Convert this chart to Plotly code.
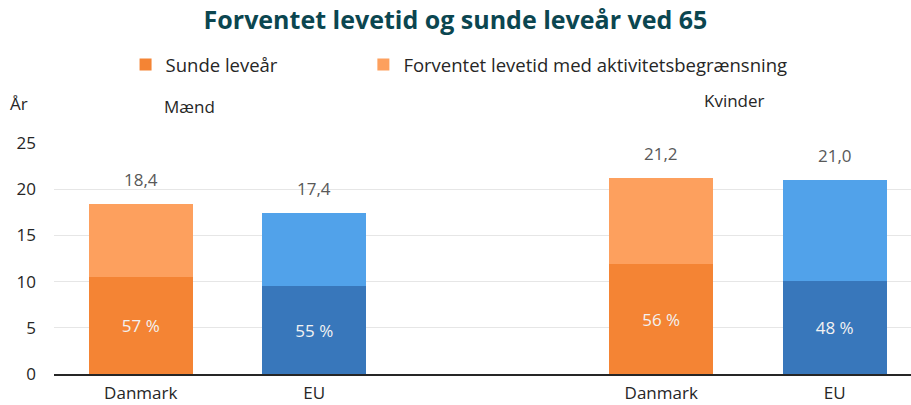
import plotly.graph_objects as go

# ---- data ----
groups = ["Mænd", "Kvinder"]
categories = ["Danmark", "EU", "Danmark", "EU"]
group_of_bar = ["Mænd", "Mænd", "Kvinder", "Kvinder"]
healthy_years = [10.5, 9.5, 11.9, 10.1]          # Sunde leveår
limited_years = [7.9, 7.9, 9.3, 10.9]            # Forventet levetid med aktivitetsbegrænsning
total_years = [18.4, 17.4, 21.2, 21.0]
healthy_pct = [57, 55, 56, 48]
y_ticks = [0, 5, 10, 15, 20, 25]

# ---- styling ----
FONT = "Open Sans"
dark_colors = {"Danmark": "#F48434", "EU": "#3877BB"}
light_colors = {"Danmark": "#FDA05E", "EU": "#51A2EA"}

# positions: groups separated by an empty slot
cat_idx = {"Danmark": 0, "EU": 1}
x_pos = [groups.index(g) * 3 + cat_idx[c] for g, c in zip(group_of_bar, categories)]

fig = go.Figure()
fig.add_trace(go.Bar(
    x=x_pos, y=healthy_years, name="Sunde leveår",
    marker=dict(color=[dark_colors[c] for c in categories], line=dict(width=0)),
    width=0.6,
    text=[f"{p} %" for p in healthy_pct],
    textposition="inside", insidetextanchor="middle", textangle=0,
    constraintext="none",
    textfont=dict(family=FONT, size=17, color="#F2F2F2"),
    hoverinfo="skip", legend="legend",
))
fig.add_trace(go.Bar(
    x=x_pos, y=limited_years, name="Forventet levetid med aktivitetsbegrænsning",
    marker=dict(color=[light_colors[c] for c in categories], line=dict(width=0)),
    width=0.6, hoverinfo="skip", legend="legend2",
))

annotations = []
for xp, t in zip(x_pos, total_years):
    annotations.append(dict(
        x=xp, y=t, xref="x", yref="y", text=f"{t:.1f}".replace(".", ","),
        showarrow=False, yanchor="bottom", yshift=11,
        font=dict(family=FONT, size=17, color="#595959"),
    ))
# group labels
group_label_x = {"Mænd": 0.28, "Kvinder": 3.42}
group_label_y = {"Mænd": 1.160, "Kvinder": 1.182}
for g in groups:
    annotations.append(dict(
        x=group_label_x[g], y=group_label_y[g], xref="x", yref="paper", text=g,
        showarrow=False, xanchor="center", yanchor="middle",
        font=dict(family=FONT, size=17, color="#262626"),
    ))
annotations.append(dict(
    x=-0.0408, y=1.173, xref="paper", yref="paper", text="År", showarrow=False,
    xanchor="center", yanchor="middle",
    font=dict(family=FONT, size=17, color="#262626"),
))

legend_common = dict(
    orientation="h", yanchor="middle", y=1.338,
    font=dict(family=FONT, size=18.5, color="#262626"),
    itemwidth=30, bgcolor="rgba(0,0,0,0)",
)

fig.update_layout(
    width=911, height=405,
    barmode="stack",
    paper_bgcolor="white", plot_bgcolor="white",
    margin=dict(l=54, r=0, t=143, b=31),
    title=dict(
        text="<b>Forventet levetid og sunde leveår ved 65</b>",
        x=0.5, xanchor="center", y=0.95, yanchor="middle",
        font=dict(family=FONT, size=25, color="#0B4650"),
    ),
    legend=dict(x=0.0835, xanchor="left", **legend_common),
    legend2=dict(x=0.361, xanchor="left", **legend_common),
    xaxis=dict(
        range=[-0.5, 4.44], tickvals=x_pos, ticktext=categories,
        showgrid=False, zeroline=False, showline=True, linecolor="#262626", linewidth=1.5,
        ticks="", ticklabelstandoff=3,
        tickfont=dict(family=FONT, size=17, color="#262626"),
        fixedrange=True,
    ),
    yaxis=dict(
        range=[0, 25], tickvals=y_ticks, showgrid=True, gridcolor="#E6E6E6", gridwidth=1,
        zeroline=False, showline=False, ticks="", ticklabelstandoff=17,
        tickfont=dict(family=FONT, size=17, color="#262626"),
        fixedrange=True,
    ),
    annotations=annotations,
    showlegend=True,
)

fig.write_html("out.html", config={"displayModeBar": False},
               post_script="document.body.style.margin='0px';")
